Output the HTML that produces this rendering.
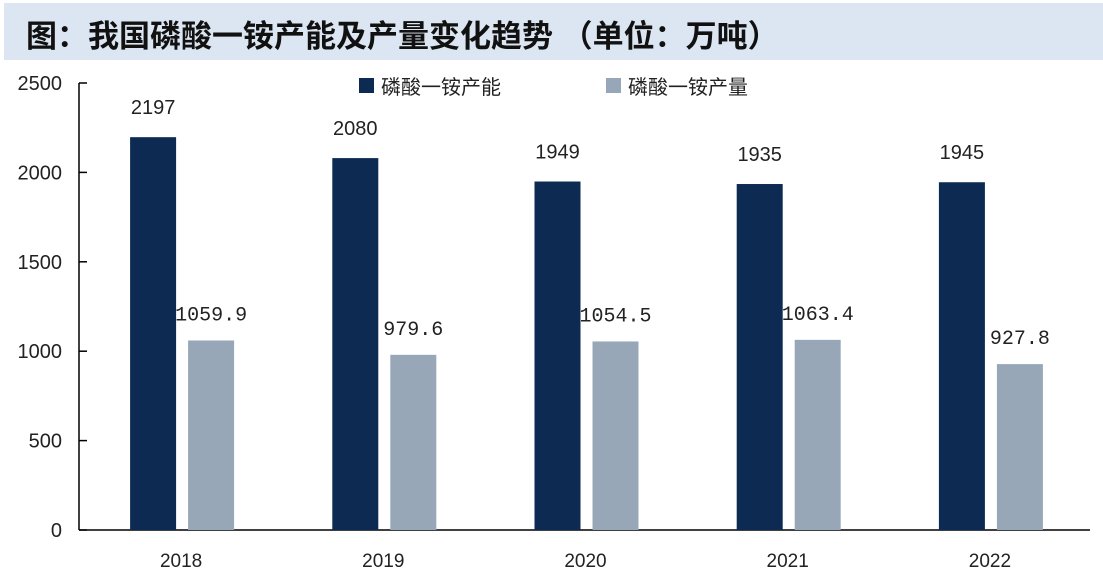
<!DOCTYPE html>
<html><head><meta charset="utf-8"><style>
body{margin:0;background:#fff;width:1103px;height:586px;overflow:hidden;font-family:"Liberation Sans","Noto Sans CJK SC",sans-serif}
#title{position:absolute;left:4px;top:3px;width:1099px;height:57px;background:#dce6f2}
#title span{position:absolute;left:22px;top:8px;font-size:31px;font-weight:bold;color:#111;font-family:"Liberation Sans","Noto Sans CJK SC",sans-serif}
svg{position:absolute;left:0;top:0}
</style></head><body>
<div id="title"><span>图：我国磷酸一铵产能及产量变化趋势 （单位：万吨）</span></div>
<svg id="chart" width="1103" height="586"></svg>
<script>
const categories=["2018","2019","2020","2021","2022"];
const capacity=[2197,2080,1949,1935,1945];
const output=[1059.9,979.6,1054.5,1063.4,927.8];
const capLabels=["2197","2080","1949","1935","1945"];
const outLabels=["1059.9","979.6","1054.5","1063.4","927.8"];
const yTicks=[0,500,1000,1500,2000,2500];
const NS="http://www.w3.org/2000/svg";
const svg=document.getElementById('chart');
const x0=79,x1=1090,y0=530,yTop=83,yMax=2500;
const y=v=>y0-(v/yMax)*(y0-yTop);
const band=(x1-x0)/categories.length;
const cx=i=>x0+band*(i+0.5)+1;
function mk(t,a,txt){const e=document.createElementNS(NS,t);for(const k in a)e.setAttribute(k,a[k]);if(txt!=null)e.textContent=txt;svg.appendChild(e);return e;}
let ax=mk('line',{x1:x0,y1:yTop,x2:x0,y2:y0,stroke:'#000','stroke-width':1.5});


let bx=mk('line',{x1:x0,y1:y0,x2:x1,y2:y0,stroke:'#000','stroke-width':1.5});


yTicks.forEach(v=>{
 let t=mk('line',{x1:x0,y1:y(v),x2:x0+8,y2:y(v),stroke:'#000','stroke-width':1.5});
 
 
 let l=mk('text',{x:62,y:y(v)+7,'text-anchor':'end','font-size':20,fill:'#222'},String(v));
 
 
});
categories.forEach((c,i)=>{
 const c0=cx(i);
 let b1=mk('rect',{x:c0-51,y:y(capacity[i]),width:46,height:y0-y(capacity[i]),fill:'#0d2a52'});
 
 
 let b2=mk('rect',{x:c0+7,y:y(output[i]),width:46,height:y0-y(output[i]),fill:'#97a7b8'});
 
 
 let l1=mk('text',{x:c0-28,y:y(capacity[i])-23,'text-anchor':'middle','font-size':20,fill:'#222'},capLabels[i]);
 
 
 let l2=mk('text',{x:c0+30,y:y(output[i])-20,'text-anchor':'middle','font-size':20,fill:'#222','font-family':'Liberation Mono, monospace'},outLabels[i]);
 
 
 let xl=mk('text',{x:c0,y:567,'text-anchor':'middle','font-size':19,fill:'#222'},c);
 
 
});
let s1=mk('rect',{x:359,y:78,width:15,height:15,fill:'#0d2a52'});


let t1=mk('text',{x:381,y:94,'font-size':20,fill:'#222'},'磷酸一铵产能');


let s2=mk('rect',{x:606,y:78,width:15,height:15,fill:'#97a7b8'});


let t2=mk('text',{x:628,y:94,'font-size':20,fill:'#222'},'磷酸一铵产量');


</script>
</body></html>
